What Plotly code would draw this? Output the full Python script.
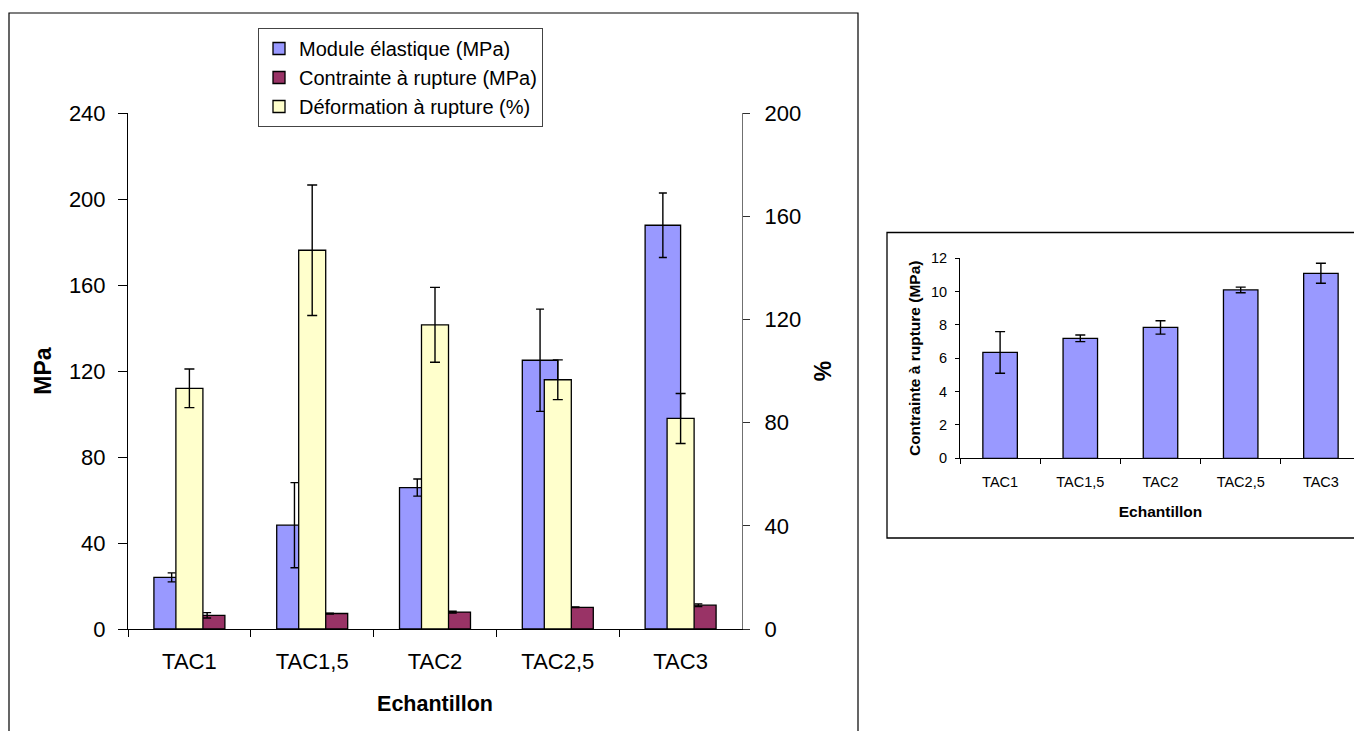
import plotly.graph_objects as go

W, H = 1362, 731
OFF = 8  # page body margin

categories = ["TAC1", "TAC1,5", "TAC2", "TAC2,5", "TAC3"]

module_mpa = [24.0, 48.3, 65.8, 125.0, 187.8]
module_err = [2.1, 19.8, 4.0, 23.8, 15.0]

contrainte_mpa = [6.35, 7.2, 7.85, 10.1, 11.1]
contrainte_err = [1.25, 0.2, 0.4, 0.17, 0.6]

deformation_pct = [93.3, 146.8, 117.9, 96.6, 81.6]
deformation_err = [7.5, 25.3, 14.5, 7.7, 9.7]

left_ticks = [0, 40, 80, 120, 160, 200, 240]
right_ticks = [0, 40, 80, 120, 160, 200]
inset_ticks = [0, 2, 4, 6, 8, 10, 12]

BLUE = "#9999FF"
RED = "#993366"
YELLOW = "#FFFFCC"
FONT = "Liberation Sans, Arial, sans-serif"


def px_x(p):
    return (p - OFF) / W


def px_y(p):
    return (H - (p - OFF)) / H


err_style = dict(type="data", visible=True, color="black", thickness=1.4)

fig = go.Figure()

fig.add_trace(go.Bar(
    name="Module élastique (MPa)", x=categories, y=module_mpa,
    offset=-0.289, width=0.289,
    marker=dict(color=BLUE, line=dict(color="black", width=1.3)),
    error_y=dict(array=module_err, width=4, **err_style),
    xaxis="x", yaxis="y", legendgroup="a",
))
fig.add_trace(go.Bar(
    name="Contrainte à rupture (MPa)", x=categories, y=contrainte_mpa,
    offset=0.0, width=0.289,
    marker=dict(color=RED, line=dict(color="black", width=1.3)),
    error_y=dict(array=contrainte_err, width=4, **err_style),
    xaxis="x", yaxis="y", legendgroup="b",
))
fig.add_trace(go.Bar(
    name="Déformation à rupture (%)", x=categories, y=deformation_pct,
    offset=-0.11, width=0.22,
    marker=dict(color=YELLOW, line=dict(color="black", width=1.3)),
    error_y=dict(array=deformation_err, width=5, **err_style),
    xaxis="x", yaxis="y2", legendgroup="c",
))

# inset chart
fig.add_trace(go.Bar(
    name="Contrainte à rupture (MPa)", x=categories, y=contrainte_mpa,
    width=0.43,
    marker=dict(color=BLUE, line=dict(color="black", width=1.3)),
    error_y=dict(array=contrainte_err, width=5, **err_style),
    xaxis="x3", yaxis="y3", showlegend=False,
))

tick_font = dict(family=FONT, size=22, color="black")
title_font = dict(family=FONT, size=23, color="black", weight="bold")

fig.update_layout(
    template="none",
    width=W, height=H,
    margin=dict(l=0, r=0, t=0, b=0, autoexpand=False),
    paper_bgcolor="white", plot_bgcolor="rgba(0,0,0,0)",
    barmode="overlay",
    font=dict(family=FONT, color="black"),
    xaxis=dict(
        domain=[px_x(128), px_x(742)], automargin=False,
        type="category", range=[-0.5, 4.5],
        showline=True, linecolor="black", linewidth=1,
        ticks="outside", ticklen=7, tickcolor="black", tickson="boundaries",
        ticklabelstandoff=13,
        tickfont=tick_font, showgrid=False, zeroline=False,
        title=dict(text="Echantillon", font=dict(family=FONT, size=21.5, weight="bold", color="black"), standoff=22),
        anchor="y",
    ),
    yaxis=dict(
        domain=[px_y(629), px_y(113)], automargin=False,
        range=[0, 240], tickvals=left_ticks,
        showline=True, linecolor="black", linewidth=1,
        ticks="outside", ticklen=9, tickcolor="black",
        ticklabelstandoff=8,
        tickfont=tick_font, showgrid=False, zeroline=False,
        title=dict(text="MPa", font=title_font, standoff=10),
        anchor="x",
    ),
    yaxis2=dict(
        range=[0, 200], tickvals=right_ticks, automargin=False,
        overlaying="y", side="right", anchor="x",
        showline=True, linecolor="#707070", linewidth=1.3,
        ticks="outside", ticklen=7, tickcolor="#303030",
        ticklabelstandoff=10,
        tickfont=tick_font, showgrid=False, zeroline=False,
        title=dict(text="%", font=title_font, standoff=14),
    ),
    yaxis4=dict(
        range=[0, 200], tickvals=right_ticks, automargin=False,
        overlaying="y", side="right", anchor="x",
        showline=False, ticks="inside", ticklen=7, tickcolor="#303030",
        showticklabels=False, showgrid=False, zeroline=False,
    ),
    xaxis3=dict(
        domain=[px_x(960), px_x(1361)], automargin=False,
        type="category", range=[-0.5, 4.5],
        showline=True, linecolor="black", linewidth=1,
        ticks="outside", ticklen=5, tickcolor="black", tickson="boundaries",
        ticklabelstandoff=10,
        tickfont=dict(family=FONT, size=14.5, color="black"),
        showgrid=False, zeroline=False,
        title=dict(text="Echantillon", font=dict(family=FONT, size=15.5, weight="bold", color="black"), standoff=17),
        anchor="y3",
    ),
    yaxis3=dict(
        domain=[px_y(458.3), px_y(258.3)], automargin=False,
        range=[0, 12], tickvals=inset_ticks,
        showline=True, linecolor="black", linewidth=1,
        ticks="outside", ticklen=4, tickcolor="black",
        ticklabelstandoff=5,
        tickfont=dict(family=FONT, size=14.5, color="black"),
        showgrid=False, zeroline=False,
        title=dict(text="Contrainte à rupture (MPa)", font=dict(family=FONT, size=15.5, weight="bold", color="black"), standoff=6),
        anchor="x3",
    ),
    legend=dict(
        x=px_x(258), y=px_y(28), xanchor="left", yanchor="top",
        bgcolor="white", bordercolor="#444444", borderwidth=1,
        font=dict(family=FONT, size=20, color="black"),
        traceorder="normal", tracegroupgap=6,
        itemwidth=30,
    ),
    shapes=[
        dict(type="rect", xref="paper", yref="paper",
             x0=px_x(9), x1=px_x(858), y0=px_y(745), y1=px_y(13),
             line=dict(color="black", width=1.2), fillcolor="rgba(0,0,0,0)", layer="below"),
        dict(type="rect", xref="paper", yref="paper",
             x0=px_x(887), x1=px_x(1361), y0=px_y(538), y1=px_y(232.5),
             line=dict(color="black", width=1.3), fillcolor="rgba(0,0,0,0)", layer="below"),
    ],
)

fig.write_html("out.html")
